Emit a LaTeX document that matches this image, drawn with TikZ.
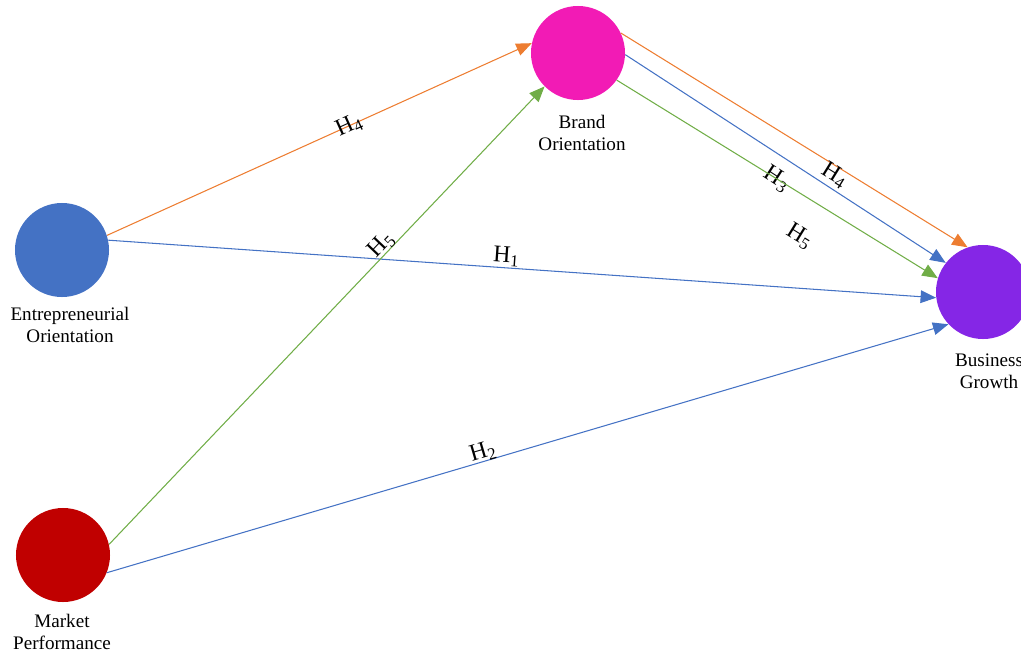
\documentclass[tikz,border=0pt]{standalone}
\usepackage{fontspec}
\setmainfont{Liberation Serif}
\usetikzlibrary{arrows.meta}
\definecolor{EOBlue}{HTML}{4472C4}
\definecolor{MPRed}{HTML}{C00000}
\definecolor{BOPink}{HTML}{F21BB5}
\definecolor{BGPurple}{HTML}{8526E6}
\definecolor{HOrange}{HTML}{ED7D31}
\definecolor{HGreen}{HTML}{70AD47}

\begin{document}
\begin{tikzpicture}[x=0.025cm,y=-0.025cm,
  hub/.style={circle,minimum size=2.35cm,inner sep=0pt},
  tag/.style={align=center,font=\fontsize{13.6}{15.6}\selectfont,inner sep=0pt},
  hyp/.style={font=\fontsize{17}{19}\selectfont,text=black,inner sep=1pt,sloped},
  link/.style={line width=0.75pt,-{Triangle[length=11pt,width=9pt]}}]
\useasboundingbox (0,0) rectangle (1021,654);
% constructs
\node[hub,fill=EOBlue] (eo) at (62,250) {};
\node[hub,fill=MPRed] (mp) at (63,555) {};
\node[hub,fill=BOPink] (bo) at (578,53) {};
\node[hub,fill=BGPurple] (bg) at (983,292) {};
\node[tag] (eotag) at (70,325) {Entrepreneurial\\Orientation};
\node[tag] (mptag) at (62,632) {Market\\Performance};
\node[tag] (botag) at (582,133) {Brand\\Orientation};
\node[tag] (bgtag) at (989,371) {Business\\Growth};
% hypotheses
\draw[link,HOrange] (eo.18) -- (bo.168) node[hyp,pos=0.57] {H\textsubscript{4}};
\draw[link,EOBlue] (eo.12) -- (bg.187) node[hyp,pos=0.48,above] {H\textsubscript{1}};
\draw[link,HGreen] (mp.13) -- (bo.225) node[hyp,pos=0.64,above=-2pt] {H\textsubscript{5}};
\draw[link,EOBlue] (mp.-22) -- (bg.223) node[hyp,pos=0.45,above=-2pt] {H\textsubscript{2}};
\draw[link,HOrange] (bo.25) -- (bg.109) node[hyp,pos=0.63,below=-2pt] {H\textsubscript{4}};
\draw[link,EOBlue] (bo.-2) -- (bg.142) node[hyp,pos=0.51,below=7pt] {H\textsubscript{3}};
\draw[link,HGreen] (bo.-35) -- (bg.163) node[hyp,pos=0.63,below=18pt] {H\textsubscript{5}};
\end{tikzpicture}
\end{document}
